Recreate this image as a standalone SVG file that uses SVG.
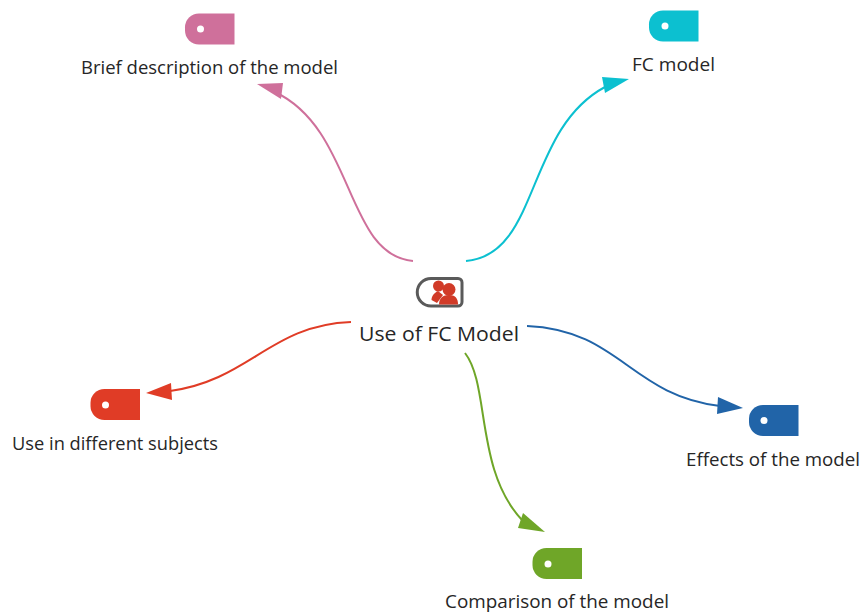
<svg xmlns="http://www.w3.org/2000/svg" width="860" height="612" viewBox="0 0 860 612">
<style>
text{font-family:"Open Sans","Noto Sans",sans-serif;font-size:18.2px;fill:#262626}
.c{fill:none;stroke-width:2}
.hole{fill:#fff}
</style>
<defs>
<path id="tag" d="M14 0H49.500V31H14A14 14 0 0 1 0 17V14A14 14 0 0 1 14 0Z"/>
</defs>
<rect width="860" height="612" fill="#fff"/>
<g id="connectors">
<path class="c" stroke="#cf709b" d="M413 261C345 255 355 130 275 92"/>
<polygon fill="#cf709b" points="257,84 283,83 281,99"/>
<path class="c" stroke="#0cc0d0" d="M466 261C540 255 525 130 605 87"/>
<polygon fill="#0cc0d0" points="629,79 602,77 605,93"/>
<path class="c" stroke="#e03c26" d="M351 322C270 325 250 380 170 391"/>
<polygon fill="#e03c26" points="146,393 171,383 172,400"/>
<path class="c" stroke="#6fa628" d="M465 353C490 385 475 470 522 520"/>
<polygon fill="#6fa628" points="545,532 518,528 523,513"/>
<path class="c" stroke="#2164a8" d="M527 326C620 330 630 395 720 406"/>
<polygon fill="#2164a8" points="743,408 718,397 717,414"/>
</g>
<g id="center">
<path d="M431 278.500H458A4 4 0 0 1 462 282.500V302A4 4 0 0 1 458 306H431A13.750 13.750 0 0 1 431 278.500Z" fill="#fff" stroke="#5a5a5a" stroke-width="3"/>
<circle cx="438.500" cy="286" r="5.500" fill="#d13b28"/>
<path d="M431.500 300C431.500 296 434 293 438 291L443 295L437 303Z" fill="#d13b28"/>
<circle cx="449" cy="289.500" r="6.500" fill="#d13b28"/>
<path d="M439 304.500C439 298 443 295 449 295C455 295 458 298 458 304.500Z" fill="#d13b28"/>
<text x="439" y="341" text-anchor="middle" style="font-size:20px" textLength="160" lengthAdjust="spacingAndGlyphs">Use of FC Model</text>
</g>
<g id="brief">
<use href="#tag" x="185" y="13.500" fill="#cf709b"/>
<circle class="hole" cx="200.500" cy="29" r="3.500"/>
<text x="81" y="74" textLength="257" lengthAdjust="spacingAndGlyphs">Brief description of the model</text>
</g>
<g id="fc">
<use href="#tag" x="649" y="10.500" fill="#0cc0d0"/>
<circle class="hole" cx="665" cy="26" r="3.500"/>
<text x="632" y="71" textLength="83" lengthAdjust="spacingAndGlyphs">FC model</text>
</g>
<g id="use">
<use href="#tag" x="90.500" y="389" fill="#e03c26"/>
<circle class="hole" cx="105.500" cy="405" r="3.500"/>
<text x="12" y="450" textLength="206" lengthAdjust="spacingAndGlyphs">Use in different subjects</text>
</g>
<g id="comparison">
<use href="#tag" x="532.500" y="548" fill="#6fa628"/>
<circle class="hole" cx="548" cy="564" r="3.500"/>
<text x="445" y="607.500" textLength="224" lengthAdjust="spacingAndGlyphs">Comparison of the model</text>
</g>
<g id="effects">
<use href="#tag" x="749" y="405" fill="#2164a8"/>
<circle class="hole" cx="764" cy="420.500" r="3.500"/>
<text x="686" y="466" textLength="174" lengthAdjust="spacingAndGlyphs">Effects of the model</text>
</g>
</svg>
